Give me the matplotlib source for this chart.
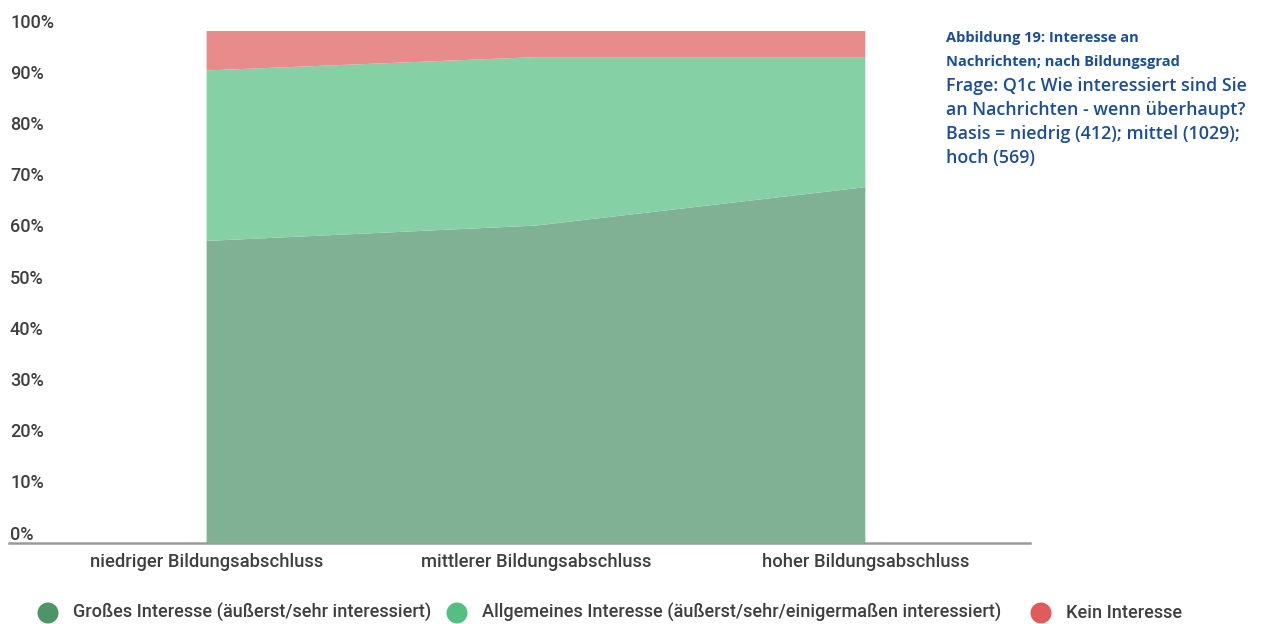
import matplotlib
matplotlib.use("Agg")
import matplotlib.pyplot as plt
import matplotlib.transforms as mtransforms
import numpy as np

categories = ["niedriger Bildungsabschluss", "mittlerer Bildungsabschluss", "hoher Bildungsabschluss"]
series_names = ["Großes Interesse (äußerst/sehr interessiert)",
                "Allgemeines Interesse (äußerst/sehr/einigermaßen interessiert)",
                "Kein Interesse"]
grosses = [59, 62, 69.5]
allgemeines = [33.3, 32.9, 25.4]
kein = [7.7, 5.1, 5.1]
y_ticks = [0, 10, 20, 30, 40, 50, 60, 70, 80, 90, 100]
y_tick_labels = [f"{t}%" for t in y_ticks]

title_lines = ["Abbildung 19: Interesse an", "Nachrichten; nach Bildungsgrad"]
note_lines = ["Frage: Q1c Wie interessiert sind Sie", "an Nachrichten - wenn überhaupt?",
              "Basis = niedrig (412); mittel (1029);", "hoch (569)"]

area_colors = ["#80b194", "#86d0a5", "#e88b8b"]
legend_colors = ["#4d9466", "#55bf83", "#e05b5b"]
text_color = "#3f3f3f"
blue = "#1b4d9c"

plt.rcParams['font.family'] = ['Roboto', 'DejaVu Sans']

W, H = 1261, 624
fig = plt.figure(figsize=(W / 100, H / 100), dpi=100)
ax_left, ax_right = 9, 1030
ax_bottom, ax_top = 543, 31
ax = fig.add_axes([ax_left / W, (H - ax_bottom) / H, (ax_right - ax_left) / W, (ax_bottom - ax_top) / H])

x = np.arange(len(categories))
ax.stackplot(x, grosses, allgemeines, kein, colors=area_colors, linewidth=0, zorder=3)
ax.set_xlim(-0.6, 2.5)
ax.set_ylim(0, 100)

for s in ["top", "right", "left"]:
    ax.spines[s].set_visible(False)
ax.spines["bottom"].set_color("#9a9a9a")
ax.spines["bottom"].set_linewidth(1.8)
ax.spines["bottom"].set_zorder(2)

ax.set_yticks([])
ax.set_xticks(x)
ax.set_xticklabels(categories, fontsize=13.2, color=text_color, fontweight="medium")
ax.tick_params(axis="x", length=0, pad=7)

ytrans = mtransforms.offset_copy(ax.get_yaxis_transform(), fig=fig, x=1, y=8.5, units="dots")
for t, lab in zip(y_ticks, y_tick_labels):
    ax.text(0.0, t, lab, transform=ytrans, ha="left", va="center", fontsize=13,
            color=text_color, fontweight="medium")

# Side title
tx = 946 / W
ty0 = 38
for i, line in enumerate(title_lines):
    fig.text(tx, 1 - (ty0 + 24 * i) / H, line, ha="left", va="center", fontsize=10.5,
             fontweight="bold", color=blue, family=["Open Sans", "DejaVu Sans"])
for j, line in enumerate(note_lines):
    i = j + len(title_lines)
    fig.text(tx, 1 - (ty0 + 24 * i) / H, line, ha="left", va="center", fontsize=12.9,
             fontweight="semibold", color=blue, family=["Open Sans", "DejaVu Sans"])

# Legend
leg_y = 1 - 613 / H
marker_x = [48, 457, 1041]
for mx, name, c in zip(marker_x, series_names, legend_colors):
    fig.patches.append(matplotlib.patches.Ellipse((mx / W, leg_y), 21 / W, 21 / H, transform=fig.transFigure,
                                                  facecolor=c, edgecolor="none"))
    fig.text((mx + 25) / W, leg_y, name, ha="left", va="center", fontsize=13.1,
             color=text_color, fontweight="medium")

fig.savefig("out.png", dpi=100)
